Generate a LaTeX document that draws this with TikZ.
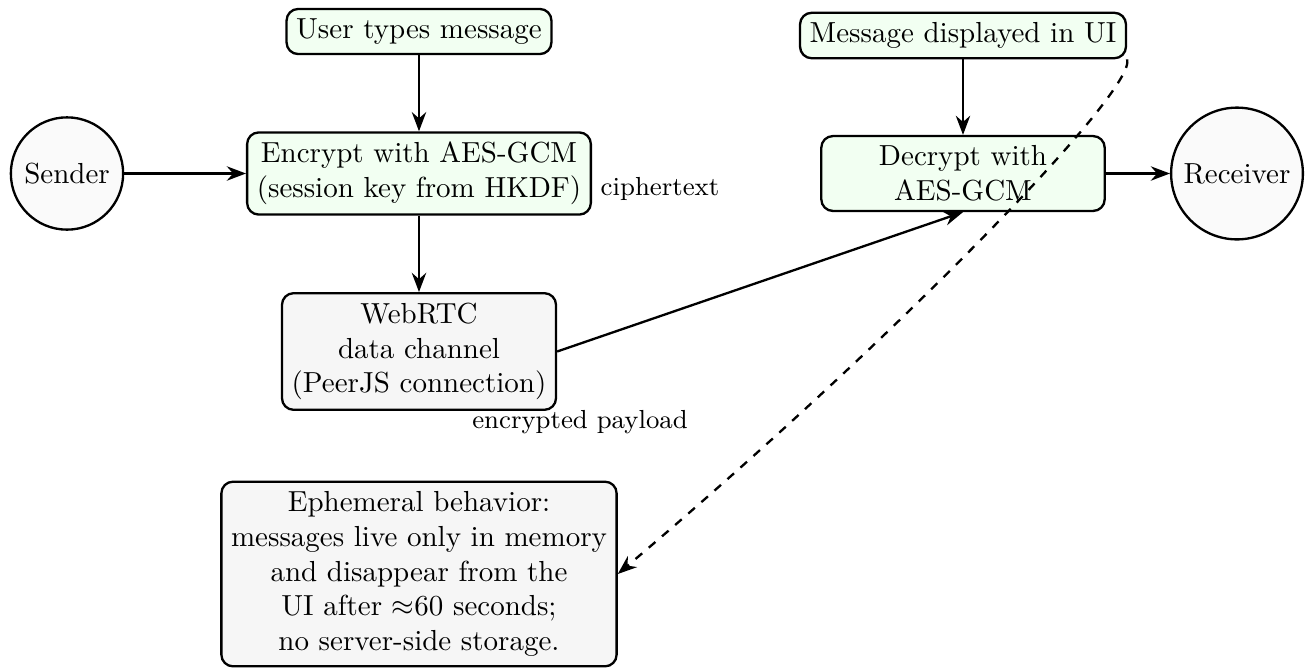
\documentclass[tikz,border=0pt]{standalone}
\usepackage{fontspec}
\usetikzlibrary{arrows.meta}
\begin{document}
\begin{tikzpicture}[x=0.3448pt, y=-0.3448pt,
  actor/.style={circle, draw, thick, fill=gray!4},
  greenbox/.style={draw, thick, rounded corners, fill=green!5, align=center},
  graybox/.style={draw, thick, rounded corners, fill=gray!7, align=center},
  lbl/.style={font=\small},
  flow/.style={thick, -{Stealth}},
  note/.style={thick, dashed, -{Stealth}}]

\useasboundingbox (0,0) rectangle (1314,668);

% end points of the conversation
\node[actor] (sender) at (67,173.5) {Sender};
\node[actor] (recv) at (1237,173.5) {Receiver};

% sender side
\node[greenbox] (user) at (419,31.5) {User types message};
\node[greenbox] (enc) at (419,173.5) {Encrypt with AES-GCM\\(session key from HKDF)};
\node[graybox] (rtc) at (419,351.5) {WebRTC\\data channel\\(PeerJS connection)};

% receiver side
\node[greenbox] (msg) at (963,35.5) {Message displayed in UI};
\node[greenbox, text width=3.2cm] (dec) at (963,173.5) {Decrypt with AES-GCM};

% lifetime note
\node[graybox] (eph) at (419,574) {Ephemeral behavior:\\messages live only in memory\\and disappear from the\\UI after $\approx$60 seconds;\\no server-side storage.};

% data labels
\node[lbl] (ct) at (660,189) {ciphertext};
\node[lbl] (ep) at (580,422) {encrypted payload};

% connectors
\draw[flow] (sender) -- (enc);
\draw[flow] (user) -- (enc);
\draw[flow] (enc) -- (rtc);
\draw[flow] (rtc.east) -- (dec.south);
\draw[flow] (msg) -- (dec);
\draw[flow] (dec) -- (recv);
\draw[note] (msg.south east) .. controls +(10,30) and +(280,-237) .. (eph.east);
\end{tikzpicture}
\end{document}
